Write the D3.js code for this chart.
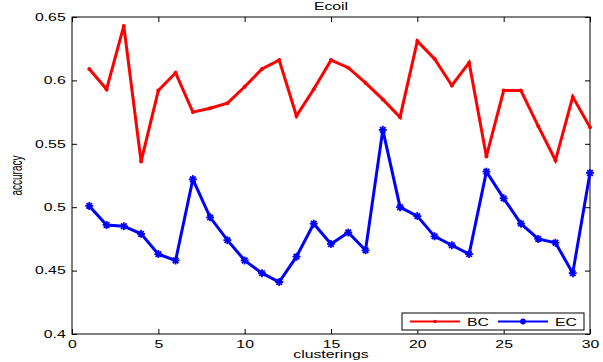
<!DOCTYPE html>
<html>
<head>
<meta charset="utf-8">
<script src="https://cdn.jsdelivr.net/npm/d3@7"></script>
<style>
body { margin: 0; background: #fff; }
text { font-family: "Liberation Sans", Arial, sans-serif; }
</style>
</head>
<body>
<svg id="chart" width="603" height="362"></svg>
<script>
var width = 603;
var height = 362;
var margin = { left: 72, right: 13, top: 17, bottom: 28 };
var stretch = 1.58; // text in the picture is widened horizontally

// data
var clusterings = d3.range(1, 31);
var bcValues = [0.609, 0.593, 0.643, 0.536, 0.592, 0.606, 0.575, 0.578, 0.582, 0.595,
                0.609, 0.616, 0.572, 0.593, 0.616, 0.610, 0.598, 0.585, 0.571, 0.631,
                0.617, 0.596, 0.614, 0.540, 0.592, 0.592, 0.564, 0.537, 0.587, 0.563];
var ecValues = [0.501, 0.486, 0.485, 0.479, 0.463, 0.458, 0.522, 0.492, 0.474, 0.458,
                0.448, 0.441, 0.461, 0.487, 0.471, 0.480, 0.466, 0.561, 0.500, 0.493,
                0.477, 0.470, 0.463, 0.528, 0.507, 0.487, 0.475, 0.472, 0.448, 0.527];
var xTicks = [0, 5, 10, 15, 20, 25, 30];
var yTicks = [0.4, 0.45, 0.5, 0.55, 0.6, 0.65];

var svg = d3.select("#chart");

var x = d3.scaleLinear().domain([0, 30]).range([margin.left, width - margin.right]);
var y = d3.scaleLinear().domain([0.4, 0.65]).range([height - margin.bottom, margin.top]);

var x0 = x.range()[0], x1 = x.range()[1];
var y0 = y.range()[0], y1 = y.range()[1];

// put a text at (tx,ty) widened like the picture
function wideText(g, tx, ty, str, anchor, rot) {
    return g.append("text")
        .attr("transform", "translate(" + tx + "," + ty + ") scale(" + stretch + ",1)" + (rot ? " rotate(" + rot + ")" : ""))
        .attr("text-anchor", anchor)
        .attr("font-size", "10px")
        .attr("fill", "#000")
        .text(str);
}

// Axes (MATLAB style, ticks inward)
svg.append("g")
    .attr("transform", "translate(0," + y0 + ")")
    .call(d3.axisBottom(x).tickValues(xTicks).tickFormat(d3.format("d")).tickSizeInner(-5).tickSizeOuter(0).tickPadding(7))
    .call(function (g) { g.select(".domain").remove(); })
    .selectAll("text")
    .attr("font-size", "10px").attr("fill", "#000")
    .attr("transform", "scale(" + stretch + ",1)");

svg.append("g")
    .attr("transform", "translate(0," + y1 + ")")
    .call(d3.axisTop(x).tickValues(xTicks).tickFormat("").tickSizeInner(-5).tickSizeOuter(0))
    .call(function (g) { g.select(".domain").remove(); });

svg.append("g")
    .attr("transform", "translate(" + x0 + ",0)")
    .call(d3.axisLeft(y).tickValues(yTicks).tickFormat(function (d) { return String(+d.toFixed(2)); }).tickSizeInner(-5).tickSizeOuter(0).tickPadding(4))
    .call(function (g) { g.select(".domain").remove(); })
    .selectAll("text")
    .attr("font-size", "10px").attr("fill", "#000")
    .attr("transform", "scale(" + stretch + ",1)");

svg.append("g")
    .attr("transform", "translate(" + x1 + ",0)")
    .call(d3.axisRight(y).tickValues(yTicks).tickFormat("").tickSizeInner(-5).tickSizeOuter(0))
    .call(function (g) { g.select(".domain").remove(); });

svg.append("rect")
    .attr("x", x0).attr("y", y1)
    .attr("width", x1 - x0).attr("height", y0 - y1)
    .attr("fill", "none").attr("stroke", "#000").attr("stroke-width", 1);

// Lines
var line = d3.line()
    .x(function (d) { return x(d.x); })
    .y(function (d) { return y(d.y); });

var bcData = clusterings.map(function (c, i) { return { x: c, y: bcValues[i] }; });
var ecData = clusterings.map(function (c, i) { return { x: c, y: ecValues[i] }; });

svg.append("path").datum(bcData)
    .attr("d", line).attr("fill", "none")
    .attr("stroke", "#ff0000").attr("stroke-width", 3).attr("stroke-linejoin", "miter");

svg.selectAll(".bcDot").data(bcData).enter().append("circle")
    .attr("class", "bcDot")
    .attr("cx", function (d) { return x(d.x); })
    .attr("cy", function (d) { return y(d.y); })
    .attr("r", 2).attr("fill", "#ff0000");

svg.append("path").datum(ecData)
    .attr("d", line).attr("fill", "none")
    .attr("stroke", "#0000ff").attr("stroke-width", 3).attr("stroke-linejoin", "miter");

function star(g, cx, cy, s, color) {
    var p = "M" + (cx - s) + "," + cy + "H" + (cx + s) +
        "M" + cx + "," + (cy - s) + "V" + (cy + s) +
        "M" + (cx - s * 0.7) + "," + (cy - s * 0.7) + "L" + (cx + s * 0.7) + "," + (cy + s * 0.7) +
        "M" + (cx - s * 0.7) + "," + (cy + s * 0.7) + "L" + (cx + s * 0.7) + "," + (cy - s * 0.7);
    g.append("path").attr("d", p).attr("stroke", color).attr("stroke-width", 1.8).attr("fill", "none");
}

var ecMarks = svg.append("g");
ecData.forEach(function (d) { star(ecMarks, x(d.x), y(d.y), 4, "#0000ff"); });

// Title and labels
wideText(svg, (x0 + x1) / 2, 10, "Ecoil", "middle");
wideText(svg, (x0 + x1) / 2, 358, "clusterings", "middle");
wideText(svg, 22, (y0 + y1) / 2, "accuracy", "middle", -90);

// Legend
var legend = svg.append("g");
legend.append("rect")
    .attr("x", 402).attr("y", 313).attr("width", 182).attr("height", 17)
    .attr("fill", "#fff").attr("stroke", "#000").attr("stroke-width", 1);

legend.append("line").attr("x1", 410).attr("x2", 460).attr("y1", 321.5).attr("y2", 321.5)
    .attr("stroke", "#ff0000").attr("stroke-width", 2);
legend.append("circle").attr("cx", 435).attr("cy", 321.5).attr("r", 1.8).attr("fill", "#ff0000");
wideText(legend, 467, 325.5, "BC", "start");

legend.append("line").attr("x1", 498).attr("x2", 548).attr("y1", 321.5).attr("y2", 321.5)
    .attr("stroke", "#0000ff").attr("stroke-width", 2);
star(legend, 523, 321.5, 3, "#0000ff");
wideText(legend, 555, 325.5, "EC", "start");
</script>
</body>
</html>
